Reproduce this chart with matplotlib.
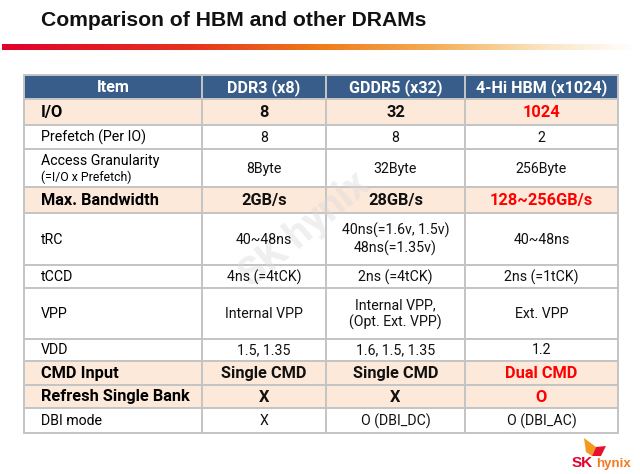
"""Comparison of HBM and other DRAMs - table slide recreated with matplotlib."""

import matplotlib
matplotlib.use("Agg")
import matplotlib.pyplot as plt
import numpy as np
from matplotlib.colors import LinearSegmentedColormap
from matplotlib.patches import Rectangle, Polygon

# ---- data -------------------------------------------------------------
columns = ["Item", "DDR3 (x8)", "GDDR5 (x32)", "4-Hi HBM (x1024)"]
items = ["I/O", "Prefetch (Per IO)", "Access Granularity", "Max. Bandwidth",
         "tRC", "tCCD", "VPP", "VDD", "CMD Input", "Refresh Single Bank",
         "DBI mode"]
item_notes = ["", "", "(=I/O x Prefetch)", "", "", "", "", "", "", "", ""]
ddr3 = ["8", "8", "8Byte", "2GB/s", "40~48ns", "4ns (=4tCK)",
        "Internal VPP", "1.5, 1.35", "Single CMD", "X", "X"]
gddr5 = ["32", "8", "32Byte", "28GB/s", "40ns(=1.6v, 1.5v)\n48ns(=1.35v)",
         "2ns (=4tCK)", "Internal VPP,\n(Opt. Ext. VPP)", "1.6, 1.5, 1.35",
         "Single CMD", "X", "O (DBI_DC)"]
hbm = ["1024", "2", "256Byte", "128~256GB/s", "40~48ns", "2ns (=1tCK)",
       "Ext. VPP", "1.2", "Dual CMD", "O", "O (DBI_AC)"]
key_rows = [True, False, False, True, False, False, False, False, True, True,
            False]

# ---- layout (pixels) --------------------------------------------------
W, H = 640, 474
COL_EDGES = [24, 202, 326, 465, 618]
TABLE_TOP = 75
HEADER_H = 24
ROW_H = [26, 24, 38, 26, 52, 23, 51, 22, 24, 23, 25]

HEADER_BG = "#385d8a"
KEY_BG = "#fde9d9"
GRID = "#c4c4c4"
RED = "#ff0000"
FONT = ["Roboto", "DejaVu Sans"]

fig = plt.figure(figsize=(W / 100, H / 100), dpi=100)
ax = fig.add_axes([0, 0, 1, 1])

# title + gradient rule
ax.text(41, 20, "Comparison of HBM and other DRAMs", family="Liberation Sans",
        fontweight="bold", fontsize=15.2, ha="left", va="center", color="#111111")
cmap = LinearSegmentedColormap.from_list(
    "rule", [(0, "#e2002c"), (0.3, "#e5331f"), (0.5, "#ef7a19"),
             (0.68, "#f4ad55"), (0.85, "#fbe3c0"), (1, "#ffffff")])
ax.imshow(np.linspace(0, 1, 256)[None, :], cmap=cmap, aspect="auto",
          extent=(2, 636, 50, 44), zorder=1)
ax.set_xlim(0, W)
ax.set_ylim(H, 0)
ax.axis("off")

# header
for c, name in enumerate(columns):
    x0, x1 = COL_EDGES[c], COL_EDGES[c + 1]
    ax.add_patch(Rectangle((x0, TABLE_TOP), x1 - x0, HEADER_H,
                           facecolor=HEADER_BG, edgecolor=GRID, lw=1.4,
                           zorder=2))
    ax.text((x0 + x1) / 2, TABLE_TOP + HEADER_H / 2 + 0.5, name, family=FONT,
            fontweight="bold", fontsize=11.6, color="white", ha="center",
            va="center", zorder=5)

# body rows
y = TABLE_TOP + HEADER_H
for r, item in enumerate(items):
    h = ROW_H[r]
    key = key_rows[r]
    bg = KEY_BG if key else "white"
    values = [ddr3[r], gddr5[r], hbm[r]]
    for c in range(4):
        x0, x1 = COL_EDGES[c], COL_EDGES[c + 1]
        ax.add_patch(Rectangle((x0, y), x1 - x0, h, facecolor=bg,
                               edgecolor=GRID, lw=1.4, zorder=2))
    weight = "bold" if key else "normal"
    size = 11.8 if key else 10.2
    yc = y + h / 2 + 0.5
    if item_notes[r]:
        ax.text(COL_EDGES[0] + 17, yc - 8, item, family=FONT, fontsize=size,
                fontweight=weight, ha="left", va="center", zorder=5)
        ax.text(COL_EDGES[0] + 17, yc + 9, item_notes[r], family=FONT,
                fontsize=8.8, ha="left", va="center", zorder=5)
    else:
        ax.text(COL_EDGES[0] + 17, yc, item, family=FONT, fontsize=size,
                fontweight=weight, ha="left", va="center", zorder=5)
    for c, val in enumerate(values, start=1):
        color = RED if (key and c == 3) else "#111111"
        ax.text((COL_EDGES[c] + COL_EDGES[c + 1]) / 2, yc, val, family=FONT,
                fontsize=size, fontweight=weight, color=color, ha="center",
                va="center", linespacing=1.25, zorder=5)
    y += h

# watermark
ax.text(305, 230, "SK hynix", family=FONT, fontweight="bold", fontsize=29,
        color="#d9d9d9", alpha=0.4, rotation=40, ha="center", va="center",
        zorder=4)

# logo
ax.add_patch(Polygon([(584, 438), (596, 447), (592, 456), (586, 452)],
                     closed=True, facecolor="#f39a1e", edgecolor="none",
                     zorder=5))
ax.add_patch(Polygon([(592, 456), (596, 447), (606, 446), (601, 456)],
                     closed=True, facecolor="#e8112d", edgecolor="none",
                     zorder=5))
ax.text(572, 463, "SK", family="Liberation Sans", fontweight="bold",
        fontsize=11, color="#e4002b", ha="left", va="center", zorder=5)
ax.text(596, 464, "hynix", family="Liberation Sans", fontweight="bold",
        fontsize=9.5, color="#f47920", ha="left", va="center", zorder=5)

fig.savefig("out.png", dpi=100)
